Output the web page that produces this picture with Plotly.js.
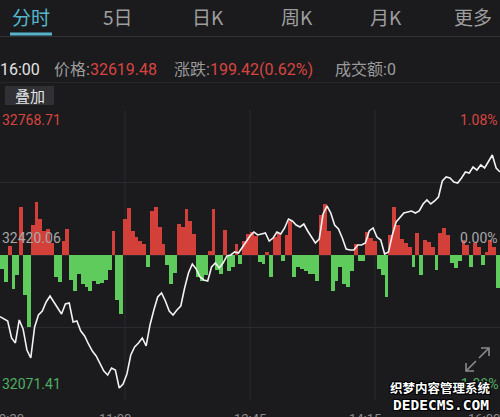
<!DOCTYPE html>
<html>
<head>
<meta charset="utf-8">
<script src="https://cdn.plot.ly/plotly-3.0.1.min.js"></script>
<style>
html,body{margin:0;padding:0;background:#1b1b1e;}
#chart{width:500px;height:417px;}
</style>
</head>
<body>
<div id="chart"></div>
<script>
// ---- data ----
const prevClose = 32420.06;
const priceLow = 32071.41;
const priceHigh = 32768.71;
const lastPrice = 32619.48;
const change = 199.42;
const changePct = "0.62%";
const stepMinutes = 3; // one sample every 3 minutes from 9:30
const prices = [
 32271.7,32266.2,32261.4,32220.5,32208.5,32263.8,32242.2,32191.6,32172.4,32247.0,
 32275.8,32285.4,32307.1,32321.5,32307.1,32290.2,32278.2,32302.2,32304.7,32259.0,
 32261.4,32237.3,32225.3,32206.1,32189.2,32177.2,32160.4,32141.1,32131.5,32148.4,
 32143.6,32100.3,32109.9,32133.9,32179.6,32198.9,32208.5,32220.5,32201.3,32251.8,
 32287.8,32319.1,32328.7,32309.5,32285.4,32275.8,32287.8,32297.4,32340.7,32376.8,
 32398.4,32386.4,32367.2,32360.0,32357.5,32391.2,32400.8,32388.8,32400.8,32417.7,
 32420.1,32427.3,32424.9,32439.3,32451.3,32465.8,32475.4,32468.2,32470.6,32473.0,
 32453.7,32460.9,32475.4,32470.6,32485.0,32506.6,32501.8,32492.2,32487.4,32494.6,
 32477.8,32463.3,32448.9,32458.5,32518.6,32537.9,32521.1,32492.2,32482.6,32460.9,
 32434.5,32432.1,32432.1,32444.1,32444.1,32448.9,32477.8,32485.0,32463.3,32456.1,
 32422.5,32427.3,32468.2,32499.4,32511.4,32521.1,32523.5,32525.9,32521.1,32525.9,
 32542.7,32552.3,32542.7,32549.9,32559.5,32598.0,32607.6,32605.2,32595.6,32593.2,
 32605.2,32619.6,32617.2,32631.6,32624.4,32636.5,32629.3,32646.1,32660.5,32629.3,
 32619.48
];
// red (positive) / green (negative) flow bars, one per 3-minute slot
const flows = [
 -14,-27,9,-34,-20,48,-40,-72,30,53,
 36,24,26,12,-22,-27,14,26,-25,-36,
 -19,-29,-32,-36,-26,-29,-28,-25,-15,24,
 -45,-59,36,47,24,18,14,11,-12,44,
 48,28,11,-10,-29,-18,31,28,46,34,
 21,-22,-26,-20,4,46,-15,-19,25,-16,
 -12,11,-9,14,21,23,19,-7,-9,3,
 -22,18,22,-6,20,34,-22,-12,-14,-16,
 -19,-19,-26,40,51,24,-36,-26,-12,-29,
 -32,-16,11,-6,-6,23,17,14,-14,-20,
 -42,20,48,30,16,12,8,-12,22,-20,
 15,13,8,-15,22,27,20,-8,-13,-6,
 15,10,-12,12,8,-10,3,15,8,-33
];
const timeLabels = ["9:30","11:00","12:45","14:15","16:00"];
const timeMinutes = [0,90,195,285,390];
const tabs = ["分时","5日","日K","周K","月K","更多"];
const pctLabels = ["1.08%","0.00%","-1.08%"];

// ---- colours ----
const BG = "#1b1b1e", GRID = "#2a2a2f", RED = "#d3403a", GREEN = "#5ecb5c";
const TXTRED = "#d8453e", TXTGREEN = "#4fae62", GREY = "#9b9b9b";

// ---- derived ----
const lineX = prices.map((_, i) => i * stepMinutes);
const barX = flows.map((_, i) => i * stepMinutes + stepMinutes / 2);
const barColors = flows.map(v => v >= 0 ? RED : GREEN);
const fmin = -145, fmax = 145;

const X = px => px / 500;
const Y = py => (400 - py) / 290;

const traces = [
  {type: "bar", x: barX, y: flows, width: stepMinutes, marker: {color: barColors, line: {width: 0}},
   xaxis: "x", yaxis: "y", hoverinfo: "skip"},
  {type: "scatter", mode: "lines", x: lineX, y: prices, line: {color: "#f2f2f2", width: 1.6},
   xaxis: "x", yaxis: "y2", hoverinfo: "skip"}
];

const ann = [];
const tabX = [31, 118, 208, 297, 386, 473];
tabs.forEach((t, i) => ann.push({text: t, x: X(tabX[i]), y: Y(17), xref: "paper", yref: "paper",
  xanchor: "center", yanchor: "middle", showarrow: false,
  font: {size: 19, color: i === 0 ? "#56b5cc" : "#9e9e9e", family: "Noto Sans CJK SC, Roboto"}}));

const infoFont = {size: 16, color: GREY, family: "Roboto, Noto Sans CJK SC"};
ann.push({text: "16:00", x: X(-2), y: Y(70), xref: "paper", yref: "paper", xanchor: "left", yanchor: "middle",
  showarrow: false, font: Object.assign({}, infoFont, {color: "#e2e2e2"})});
ann.push({text: "价格:<span style='color:" + TXTRED + "'>" + lastPrice.toFixed(2) + "</span>", x: X(52), y: Y(70),
  xref: "paper", yref: "paper", xanchor: "left", yanchor: "middle", showarrow: false, font: infoFont});
ann.push({text: "涨跌:<span style='color:" + TXTRED + "'>" + change.toFixed(2) + "(" + changePct + ")</span>", x: X(172), y: Y(70),
  xref: "paper", yref: "paper", xanchor: "left", yanchor: "middle", showarrow: false, font: infoFont});
ann.push({text: "成交额:0", x: X(333), y: Y(70), xref: "paper", yref: "paper", xanchor: "left", yanchor: "middle",
  showarrow: false, font: infoFont});
ann.push({text: "叠加", x: X(29.5), y: Y(95.5), xref: "paper", yref: "paper", xanchor: "center", yanchor: "middle",
  showarrow: false, font: {size: 15, color: "#e4e4e4", family: "Noto Sans CJK SC"}});

const axFont = {size: 14, family: "Roboto, Noto Sans"};
const leftVals = [priceHigh, prevClose, priceLow];
const labelY = [120, 238, 384];
const leftCol = [TXTRED, "#a8a8a8", TXTGREEN];
leftVals.forEach((v, i) => {
  ann.push({text: v.toFixed(2), x: X(0), y: Y(labelY[i]), xref: "paper", yref: "paper", xanchor: "left",
    yanchor: "middle", showarrow: false, font: Object.assign({}, axFont, {color: leftCol[i]})});
  ann.push({text: pctLabels[i], x: X(500), y: Y(labelY[i]), xref: "paper", yref: "paper", xanchor: "right",
    yanchor: "middle", showarrow: false, font: Object.assign({}, axFont, {color: leftCol[i]})});
});

timeLabels.forEach((t, i) => ann.push({text: t, x: timeMinutes[i], xref: "x", y: Y(409), yref: "paper",
  xanchor: i === 0 ? "left" : (i === timeLabels.length - 1 ? "right" : "center"), yanchor: "top",
  xshift: i === 0 ? -3 : (i === timeLabels.length - 1 ? 2 : 0),
  showarrow: false, font: {size: 13, color: "#8c8c8c", family: "Roboto"}}));

const shadow = "1px 1px 0 #000, -1px -1px 0 #000, 1px -1px 0 #000, -1px 1px 0 #000, 0 1px 0 #000, 0 -1px 0 #000, 1px 0 0 #000, -1px 0 0 #000";
ann.push({text: "<b>织梦内容管理系统</b>", x: X(440), y: Y(387), xref: "paper", yref: "paper", xanchor: "center",
  yanchor: "middle", showarrow: false, font: {size: 12.5, color: "#ffffff", family: "Noto Sans CJK SC", shadow: shadow}});
ann.push({text: "<b>DEDECMS.COM</b>", x: X(441), y: Y(405), xref: "paper", yref: "paper", xanchor: "center",
  yanchor: "middle", showarrow: false, font: {size: 14.5, color: "#ffffff", family: "DejaVu Sans Mono", shadow: shadow}});

const shapes = [];
// header lines
shapes.push({type: "rect", xref: "paper", yref: "paper", x0: X(10), x1: X(52), y0: Y(35.5), y1: Y(32.5),
  fillcolor: "#56b5cc", line: {width: 0}});
shapes.push({type: "line", xref: "paper", yref: "paper", x0: 0, x1: 1, y0: Y(36.5), y1: Y(36.5),
  line: {color: "#313136", width: 1}});
shapes.push({type: "line", xref: "paper", yref: "paper", x0: 0, x1: 1, y0: Y(82.5), y1: Y(82.5),
  line: {color: "#262629", width: 1}});
shapes.push({type: "rect", xref: "paper", yref: "paper", x0: X(5), x1: X(54), y0: Y(105), y1: Y(86),
  fillcolor: "#303035", line: {width: 0}, layer: "below"});
// vertical grid at quarters of the session
[1, 2, 3].forEach(q => shapes.push({type: "line", xref: "x", yref: "paper", x0: 390 * q / 4, x1: 390 * q / 4,
  y0: 0, y1: 1, line: {color: GRID, width: 1}, layer: "below"}));
// expand icon
const ic = "#8a8a8a";
shapes.push({type: "path", xref: "paper", yref: "paper",
  path: `M ${X(466)} ${Y(371)} L ${X(476)} ${Y(361)} M ${X(479)} ${Y(358)} L ${X(489)} ${Y(348)} ` +
        `M ${X(481)} ${Y(348)} L ${X(489)} ${Y(348)} L ${X(489)} ${Y(356)} ` +
        `M ${X(466)} ${Y(363)} L ${X(466)} ${Y(371)} L ${X(474)} ${Y(371)}`,
  line: {color: ic, width: 1.6}});

const q = (fmax - fmin) / 4;
const layout = {
  width: 500, height: 417,
  margin: {l: 0, r: 0, t: 110, b: 17, pad: 0},
  paper_bgcolor: BG, plot_bgcolor: BG,
  showlegend: false, bargap: 0,
  font: {family: "Roboto, Noto Sans CJK SC", color: GREY},
  xaxis: {range: [0, 390], showgrid: false, zeroline: false, showticklabels: false, showline: false, fixedrange: true},
  yaxis: {range: [fmin, fmax], tickvals: [fmin, fmin + q, 0, fmax - q, fmax], showticklabels: false,
    gridcolor: GRID, gridwidth: 1, zeroline: false, showline: false, fixedrange: true},
  yaxis2: {range: [priceLow, priceHigh], overlaying: "y", visible: false, showgrid: false, zeroline: false, fixedrange: true},
  annotations: ann,
  shapes: shapes
};

Plotly.newPlot("chart", traces, layout, {displayModeBar: false, staticPlot: true});
</script>
</body>
</html>
